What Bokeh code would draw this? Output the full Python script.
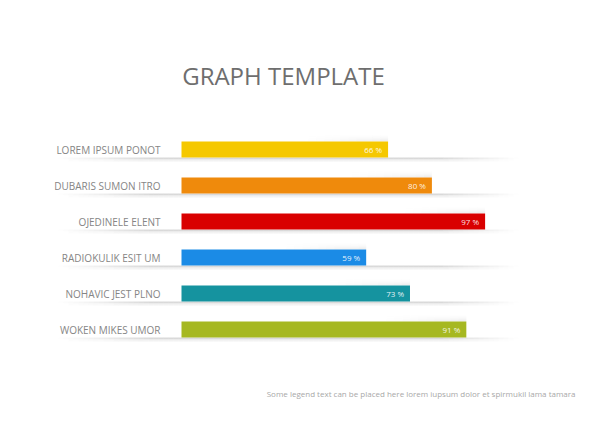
from bokeh.plotting import figure
from bokeh.models import Range1d, Label, ColumnDataSource
from bokeh.embed import file_html
from bokeh.resources import INLINE
from bokeh.core.properties import value

# ---- data ----
categories = ["LOREM IPSUM PONOT", "DUBARIS SUMON ITRO", "OJEDINELE ELENT",
              "RADIOKULIK ESIT UM", "NOHAVIC JEST PLNO", "WOKEN MIKES UMOR"]
values = [66, 80, 97, 59, 73, 91]
colors = ["#F5C800", "#EF8A0C", "#D90000", "#1B8BE6", "#15939F", "#A6B821"]
title_text = "GRAPH TEMPLATE"
legend_text = "Some legend text can be placed here lorem iupsum dolor et spirmukil lama tamara"

# ---- layout constants ----
W, H = 600, 438
X0_PX = 181.0      # pixel where 0 % starts
PX_PER = 3.13      # pixels per percent
ROW0_PX = 149.0    # pixel centre of first row
ROW_PX = 36.0      # pixels between rows
BAR_PX = 16.0

def px_to_x(px):
    return (px - X0_PX) / PX_PER

def py_to_y(py):
    return (py - ROW0_PX) / ROW_PX

p = figure(width=W, height=H, output_backend="svg", toolbar_location=None,
           x_range=Range1d(px_to_x(0), px_to_x(W)),
           y_range=Range1d(py_to_y(H), py_to_y(0)),
           x_axis_location=None, y_axis_location=None, min_border=0)
p.grid.visible = False
p.outline_line_color = None
p.background_fill_color = "white"
p.border_fill_color = "white"

rows = list(range(len(categories)))
half = BAR_PX / 2 / ROW_PX

# ---- shadow band under each bar (horizontal gradient) ----
sl, sr, st, sb, sa = [], [], [], [], []
seg = 5
left_px, full_px, fade_px, right_px = 58, 150, 440, 518
for i in rows:
    x = left_px
    while x < right_px:
        xc = x + seg / 2
        if xc < full_px:
            a = (xc - left_px) / (full_px - left_px)
        elif xc > fade_px:
            a = max(0.0, (right_px - xc) / (right_px - fade_px))
        else:
            a = 1.0
        for k, (dy0, dy1, aa) in enumerate([(0, 1.5, 0.30), (1.5, 3, 0.16), (3, 4.5, 0.06)]):
            sl.append(px_to_x(x)); sr.append(px_to_x(x + seg))
            st.append(i + half + dy0 / ROW_PX); sb.append(i + half + dy1 / ROW_PX)
            sa.append(a * aa)
        x += seg
p.quad(left=sl, right=sr, top=st, bottom=sb, fill_color="#808080",
       fill_alpha=sa, line_color=None)

# ---- soft shadow above the bar ends ----
ul, ur, ut, ub, ua = [], [], [], [], []
for i, v in zip(rows, values):
    end_px = X0_PX + v * PX_PER
    for j in range(10):
        x0 = end_px - 80 + j * 8
        a = (j + 1) / 10
        for dy0, dy1, aa in [(0, 2, 0.10), (2, 4, 0.05), (4, 6, 0.02)]:
            ul.append(px_to_x(x0)); ur.append(px_to_x(x0 + 8))
            ut.append(i - half - dy0 / ROW_PX); ub.append(i - half - dy1 / ROW_PX)
            ua.append(a * aa)
p.quad(left=ul, right=ur, top=ut, bottom=ub, fill_color="#606060",
       fill_alpha=ua, line_color=None)

# ---- bars ----
src = ColumnDataSource(dict(y=rows, v=values, c=colors, cat=categories,
                            lab=[f"{v} %" for v in values]))
p.hbar(y="y", left=0, right="v", height=BAR_PX / ROW_PX, fill_color="c",
       line_color=None, source=src)

# ---- value labels ----
p.text(x="v", y="y", text="lab", source=src, x_offset=-6, text_align="right",
       text_baseline="middle", text_color="white", text_alpha=0.9,
       text_font_size="8px", text_font=value("Open Sans"))

# ---- category labels ----
p.text(x=0, y="y", text="cat", source=src, x_offset=-21, text_align="right",
       text_baseline="middle", text_color="#858585",
       text_font_size="10px", text_font=value("Open Sans"))

# ---- title and legend ----
p.add_layout(Label(x=283, y=H - 75, x_units="screen", y_units="screen",
                   text=title_text, text_align="center", text_baseline="middle",
                   text_font_size="24px", text_color="#6e6e6e",
                   text_font="Open Sans"))
p.add_layout(Label(x=575, y=H - 393, x_units="screen", y_units="screen",
                   text=legend_text, text_align="right", text_baseline="middle",
                   text_font_size="8px", text_color="#a8a8a8",
                   text_font="Open Sans"))

open("out.html", "w").write(file_html(p, INLINE))
